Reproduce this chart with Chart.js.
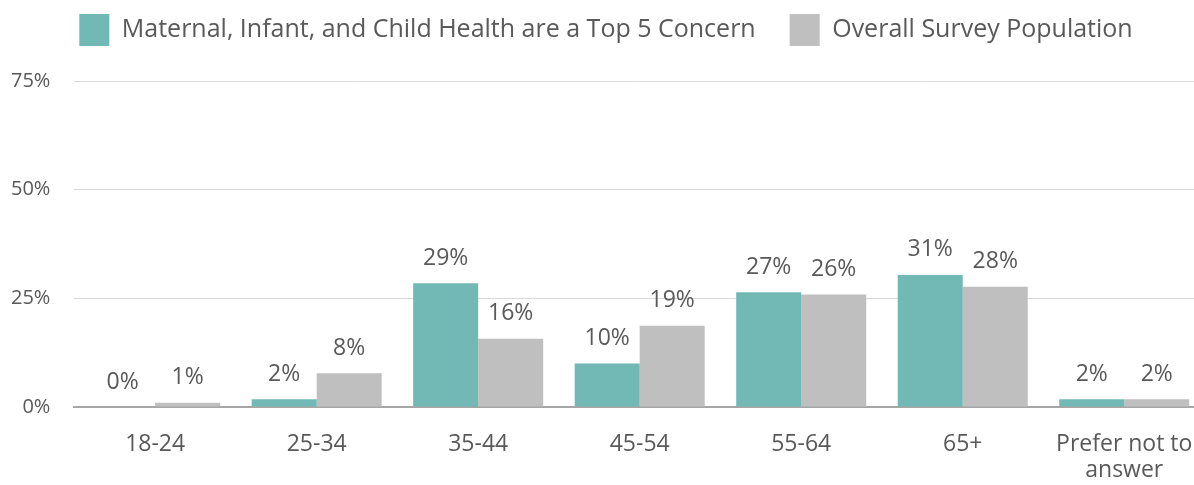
<!DOCTYPE html>
<html>
<head>
<meta charset="utf-8">
<script src="https://cdn.jsdelivr.net/npm/chart.js@4"></script>
<style>
    html, body { margin: 0; padding: 0; background: #ffffff; overflow: hidden; }
    /* the chart runs slightly past the right edge of the page, as in the original */
    #chart-wrap { width: 1210px; height: 485px; position: relative; }
</style>
</head>
<body>
<div id="chart-wrap"><canvas id="concern-chart"></canvas></div>
<script>
const categories = ["18-24", "25-34", "35-44", "45-54", "55-64", "65+", ["Prefer not to", "answer"]];
const concernValues = [0, 1.8, 28.5, 10, 26.4, 30.4, 1.8];
const concernLabels = ["0%", "2%", "29%", "10%", "27%", "31%", "2%"];
const overallValues = [1, 7.8, 15.7, 18.7, 25.9, 27.7, 1.8];
const overallLabels = ["1%", "8%", "16%", "19%", "26%", "28%", "2%"];
const yTicks = [0, 25, 50, 75];

const textColor = "#595959";

// draws the value labels above each bar
const barLabels = {
    id: "barLabels",
    afterDatasetsDraw(chart) {
        const ctx = chart.ctx;
        ctx.save();
        ctx.font = "23px 'Open Sans'";
        ctx.fillStyle = textColor;
        ctx.textAlign = "center";
        ctx.textBaseline = "middle";
        chart.data.datasets.forEach(function (ds, i) {
            chart.getDatasetMeta(i).data.forEach(function (bar, j) {
                ctx.fillText(ds.valueLabels[j], bar.x, bar.y - 25);
            });
        });
        ctx.restore();
    },
};

// extra room under the legend, and keep it centred on the visible page
const legendGap = {
    id: "legendGap",
    beforeInit(chart) {
        const origFit = chart.legend.fit;
        chart.legend.fit = function () {
            origFit.bind(chart.legend)();
            this.height += 25;
        };
    },
    afterLayout(chart) {
        chart.legend.left += 10;
        chart.legend.right += 10;
    },
};

new Chart(document.getElementById("concern-chart"), {
    type: "bar",
    data: {
        labels: categories,
        datasets: [
            {
                label: "Maternal, Infant, and Child Health are a Top 5 Concern",
                data: concernValues,
                valueLabels: concernLabels,
                backgroundColor: "#72b8b5",
                categoryPercentage: 0.805,
                barPercentage: 1.0,
            },
            {
                label: "Overall Survey Population",
                data: overallValues,
                valueLabels: overallLabels,
                backgroundColor: "#bfbfbf",
                categoryPercentage: 0.805,
                barPercentage: 1.0,
            },
        ],
    },
    options: {
        responsive: true,
        maintainAspectRatio: false,
        animation: false,
        layout: { padding: { left: -13, right: 5, top: -20, bottom: -15 } },
        scales: {
            y: {
                min: 0,
                max: 75,
                afterBuildTicks: function (axis) {
                    axis.ticks = yTicks.map(function (v) { return { value: v }; });
                },
                border: { display: false },
                grid: { color: "#d9d9d9", lineWidth: 1, drawTicks: false },
                ticks: {
                    color: textColor,
                    font: { family: "'Open Sans'", size: 20 },
                    padding: 24,
                    callback: function (v) { return v + "%"; },
                },
            },
            x: {
                border: { display: true, color: "#a6a6a6", width: 2 },
                grid: { display: false },
                ticks: {
                    color: textColor,
                    font: { family: "'Open Sans'", size: 23, lineHeight: 1.15 },
                    padding: 16,
                    maxRotation: 0,
                    autoSkip: false,
                },
            },
        },
        plugins: {
            legend: {
                position: "top",
                labels: {
                    color: textColor,
                    font: { family: "'Open Sans'", size: 25 },
                    boxWidth: 30,
                    boxHeight: 32,
                    padding: 34,
                },
            },
            tooltip: { enabled: false },
        },
    },
    plugins: [barLabels, legendGap],
});
</script>
</body>
</html>
